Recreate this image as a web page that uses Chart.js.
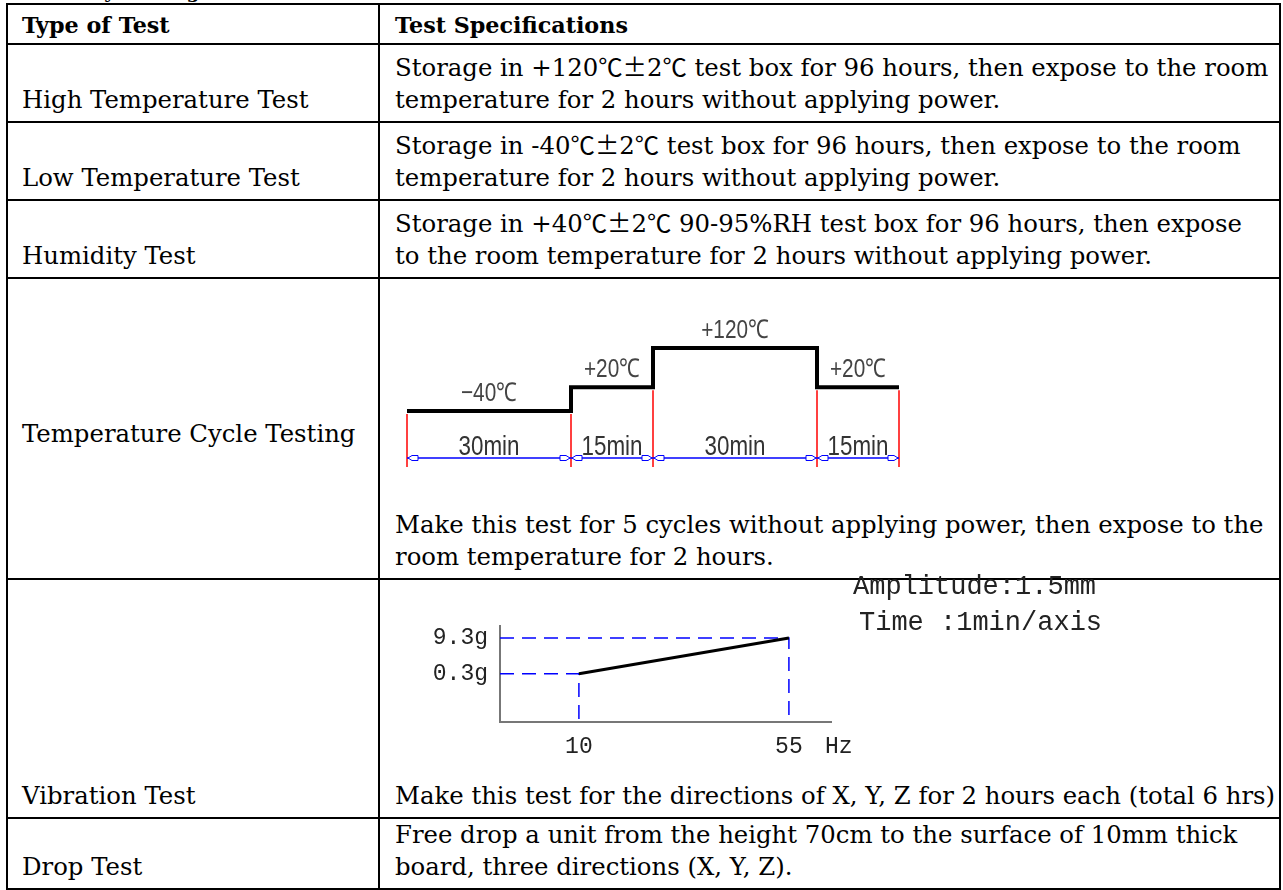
<!DOCTYPE html>
<html lang="en">
<head>
<meta charset="utf-8">
<title>Reliability Testing</title>
<script src="https://cdn.jsdelivr.net/npm/chart.js@4.4.1/dist/chart.umd.min.js"></script>
<style>
  html, body { margin: 0; padding: 0; background: #fff; }
  body { position: relative; width: 1283px; height: 890px; overflow: hidden; color: #000; font-family: 'DejaVu Serif', 'Liberation Serif', serif; }
  .titulo { position: absolute; left: 6px; top: -20px; font-size: 19px; line-height: 22px; font-weight: bold; white-space: nowrap; }
  table { position: absolute; left: 6px; top: 3px; border-collapse: collapse; table-layout: fixed; font-size: 22px; }
  td, th { border: 2px solid #000; padding: 0 0 5px 14px; vertical-align: bottom; text-align: left; white-space: nowrap; line-height: 32px; font-weight: normal; overflow: hidden; }
  th { font-weight: bold; padding-bottom: 2px; line-height: 31px; }
  td.der { padding-left: 15px; }
  td.medio { vertical-align: middle; padding-top: 10px; padding-bottom: 0; }
  .cjk { font-family: 'Noto Sans CJK SC', sans-serif; }
  canvas { position: absolute; }
  .nota { position: absolute; font-family: 'Liberation Mono', monospace; font-size: 27px; line-height: 30px; color: #222; white-space: nowrap; }
</style>
</head>
<body>

<div class="titulo">Reliability Testing</div>

<table>
  <colgroup><col style="width:372px"><col style="width:901px"></colgroup>
  <tr style="height:40px"><th>Type of Test</th><th style="padding-left:15px">Test Specifications</th></tr>
  <tr style="height:78px">
    <td>High Temperature Test</td>
    <td class="der">Storage in +120<span class="cjk">℃±</span>2<span class="cjk">℃</span> test box for 96 hours, then expose to the room<br>temperature for 2 hours without applying power.</td>
  </tr>
  <tr style="height:78px">
    <td>Low Temperature Test</td>
    <td class="der">Storage in -40<span class="cjk">℃±</span>2<span class="cjk">℃</span> test box for 96 hours, then expose to the room<br>temperature for 2 hours without applying power.</td>
  </tr>
  <tr style="height:78px">
    <td>Humidity Test</td>
    <td class="der">Storage in +40<span class="cjk">℃±</span>2<span class="cjk">℃</span> 90-95%RH test box for 96 hours, then expose<br>to the room temperature for 2 hours without applying power.</td>
  </tr>
  <tr style="height:301px">
    <td class="medio">Temperature Cycle Testing</td>
    <td class="der">Make this test for 5 cycles without applying power, then expose to the<br>room temperature for 2 hours.</td>
  </tr>
  <tr style="height:239px">
    <td>Vibration Test</td>
    <td class="der">Make this test for the directions of X, Y, Z for 2 hours each (total 6 hrs)</td>
  </tr>
  <tr style="height:71px">
    <td>Drop Test</td>
    <td class="der">Free drop a unit from the height 70cm to the surface of 10mm thick<br>board, three directions (X, Y, Z).</td>
  </tr>
</table>

<canvas id="cycleChart" width="630" height="185" style="left:390px;top:300px"></canvas>
<canvas id="vibChart" width="480" height="165" style="left:390px;top:600px"></canvas>
<div class="nota" style="left:853px;top:572px">Amplitude:1.5mm</div>
<div class="nota" style="left:859px;top:608px">Time :1min/axis</div>

<script>
// ciclo de temperatura: temperatura y duracion de cada tramo
const cycleTemps = [-40, 20, 120, 20];
const cycleMinutes = [30, 15, 30, 15];

// vibracion: frecuencia (Hz) y aceleracion (g)
const vibFreq = [10, 55];
const vibAccel = [0.3, 9.3];

// ajustar el tamaño de letra para que las lineas midan como en la imagen
function fitFont() {
    const c = document.createElement('canvas').getContext('2d');
    c.font = '100px "DejaVu Serif"';
    const normal = 100 * 880 / c.measureText('Make this test for the directions of X, Y, Z for 2 hours each (total 6 hrs)').width;
    c.font = 'bold 100px "DejaVu Serif"';
    const bold = 100 * 233 / c.measureText('Test Specifications').width;
    document.querySelector('table').style.fontSize = normal.toFixed(2) + 'px';
    document.querySelectorAll('th').forEach(th => th.style.fontSize = bold.toFixed(2) + 'px');
}
fitFont();

// bordes de cada tramo en minutos (0, 30, 45, 75, 90)
const cycleEdges = cycleMinutes.reduce((acc, m) => { acc.push(acc[acc.length - 1] + m); return acc; }, [0]);
const cyclePoints = cycleTemps.map((t, i) => ({ x: cycleEdges[i], y: t }));
cyclePoints.push({ x: cycleEdges[cycleEdges.length - 1], y: cycleTemps[cycleTemps.length - 1] });

// texto angosto tipo plano (se aprieta a lo ancho)
function narrowText(ctx, text, cx, cy, size, color) {
    ctx.save();
    ctx.translate(cx, cy);
    ctx.scale(0.8, 1);
    ctx.font = size + 'px "Liberation Sans", Arial, sans-serif';
    ctx.fillStyle = color;
    ctx.textAlign = 'center';
    ctx.textBaseline = 'middle';
    ctx.fillText(text, 0, 0);
    ctx.restore();
}

// flechitas de la cota
function arrow(ctx, tipX, yy, dir) {
    ctx.beginPath();
    ctx.moveTo(tipX, yy);
    ctx.lineTo(tipX + dir * 4, yy - 2.5);
    ctx.lineTo(tipX + dir * 10, yy - 2.5);
    ctx.lineTo(tipX + dir * 10, yy + 2.5);
    ctx.lineTo(tipX + dir * 4, yy + 2.5);
    ctx.closePath();
    ctx.fillStyle = '#fff';
    ctx.fill();
    ctx.stroke();
}

// lineas rojas, cota azul y textos del ciclo
const cycleMarks = {
    id: 'cycleMarks',
    afterDatasetsDraw(chart) {
        const { ctx, chartArea, scales: { x, y } } = chart;
        const dimY = chartArea.bottom - 12;
        ctx.save();

        ctx.strokeStyle = '#ff0000';
        ctx.lineWidth = 1.5;
        cycleEdges.forEach((m, i) => {
            const near = [cycleTemps[i - 1], cycleTemps[i]].filter(v => v !== undefined);
            const px = x.getPixelForValue(m);
            ctx.beginPath();
            ctx.moveTo(px, y.getPixelForValue(Math.min(...near)) + 3);
            ctx.lineTo(px, chartArea.bottom - 3);
            ctx.stroke();
        });

        ctx.strokeStyle = '#0000ff';
        ctx.lineWidth = 1.5;
        ctx.beginPath();
        ctx.moveTo(x.getPixelForValue(cycleEdges[0]), dimY);
        ctx.lineTo(x.getPixelForValue(cycleEdges[cycleEdges.length - 1]), dimY);
        ctx.stroke();
        ctx.lineWidth = 1;
        for (let i = 0; i < cycleMinutes.length; i++) {
            arrow(ctx, x.getPixelForValue(cycleEdges[i]) + 1, dimY, 1);
            arrow(ctx, x.getPixelForValue(cycleEdges[i + 1]) - 1, dimY, -1);
        }

        cycleTemps.forEach((t, i) => {
            const cx = (x.getPixelForValue(cycleEdges[i]) + x.getPixelForValue(cycleEdges[i + 1])) / 2;
            const label = (t > 0 ? '+' : t < 0 ? '\u2212' : '') + Math.abs(t) + '\u2103';
            narrowText(ctx, label, cx, y.getPixelForValue(t) - 17, 26, '#444');
            narrowText(ctx, cycleMinutes[i] + 'min', cx, dimY - 11, 28, '#333');
        });
        ctx.restore();
    }
};

new Chart(document.getElementById('cycleChart'), {
    type: 'line',
    data: {
        datasets: [{ data: cyclePoints, stepped: true, borderColor: '#000', borderWidth: 4, borderJoinStyle: 'miter', pointRadius: 0, fill: false }]
    },
    options: {
        responsive: false,
        animation: false,
        events: [],
        layout: { padding: { left: 17, right: 121, top: 40, bottom: 15 } },
        plugins: { legend: { display: false }, tooltip: { enabled: false } },
        scales: {
            x: { type: 'linear', display: false, bounds: 'data', min: cycleEdges[0], max: cycleEdges[cycleEdges.length - 1] },
            y: { type: 'linear', display: false, bounds: 'data', min: -190, max: 140 }
        }
    },
    plugins: [cycleMarks]
});

// texto "Hz" al lado del ultimo tick
const hzLabel = {
    id: 'hzLabel',
    afterDraw(chart) {
        const { ctx, chartArea, scales: { x } } = chart;
        ctx.save();
        ctx.font = '23px "Liberation Mono", monospace';
        ctx.fillStyle = '#222';
        ctx.textBaseline = 'middle';
        ctx.fillText('Hz', x.getPixelForValue(vibFreq[vibFreq.length - 1]) + 36, chartArea.bottom + 25);
        ctx.restore();
    }
};

const vibMinX = 5.27, vibMinY = 0.003;
const guideSets = vibFreq.map((f, i) => ({
    data: [{ x: vibMinX, y: vibAccel[i] }, { x: f, y: vibAccel[i] }, { x: f, y: vibMinY }],
    borderColor: '#0000ff', borderWidth: 1.5, borderDash: [14, 8], pointRadius: 0, fill: false
}));

const tickFont = { family: '"Liberation Mono", monospace', size: 23 };

new Chart(document.getElementById('vibChart'), {
    type: 'line',
    data: {
        datasets: [
            { data: vibFreq.map((f, i) => ({ x: f, y: vibAccel[i] })), borderColor: '#000', borderWidth: 3, pointRadius: 0, fill: false },
            ...guideSets
        ]
    },
    options: {
        responsive: false,
        animation: false,
        events: [],
        layout: { padding: { left: 0, right: 39, top: 26, bottom: 0 } },
        plugins: { legend: { display: false }, tooltip: { enabled: false } },
        scales: {
            x: {
                type: 'logarithmic', bounds: 'data', min: vibMinX, max: 77.4,
                grid: { display: false, drawTicks: false },
                border: { display: true, color: '#777', width: 2 },
                ticks: { autoSkip: false, maxRotation: 0, padding: 11, color: '#222', font: tickFont, callback: v => String(v) },
                afterBuildTicks: s => { s.ticks = vibFreq.map(v => ({ value: v })); },
                afterFit: s => { s.height = 43; }
            },
            y: {
                type: 'logarithmic', bounds: 'data', min: vibMinY, max: 29,
                grid: { display: false, drawTicks: false },
                border: { display: true, color: '#777', width: 2 },
                ticks: { autoSkip: false, padding: 12, color: '#222', font: tickFont, callback: v => v + 'g' },
                afterBuildTicks: s => { s.ticks = vibAccel.map(v => ({ value: v })); },
                afterFit: s => { s.width = 110; }
            }
        }
    },
    plugins: [hzLabel]
});
</script>
</body>
</html>
